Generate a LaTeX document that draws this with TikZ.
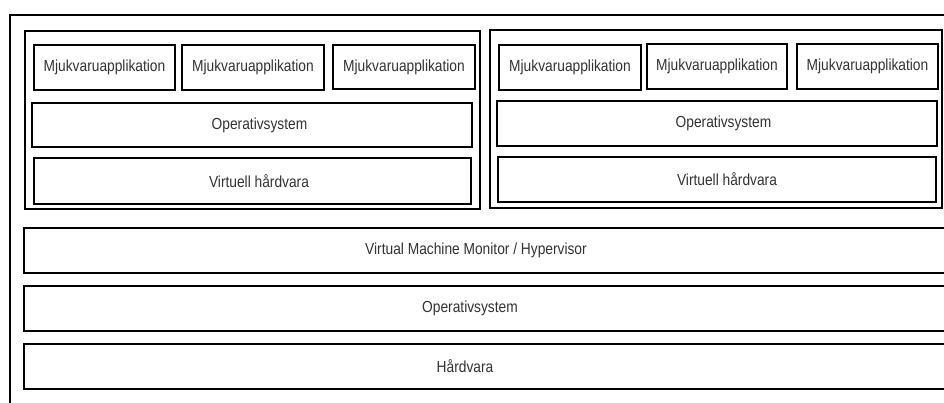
\documentclass[tikz,border=0pt]{standalone}
\usepackage{fontspec}
\setmainfont[FakeStretch=0.86]{Liberation Sans}
\begin{document}
\begin{tikzpicture}[x=1pt,y=-1pt,
  box/.style={draw=black,line width=1.7pt,rectangle,inner sep=0pt,outer sep=0pt,
    font=\fontsize{16}{19}\selectfont,text=black!80},
]
\useasboundingbox (0,0) rectangle (944,403);
\fill[white] (0,0) rectangle (944,403);
\clip (0,0) rectangle (944,403);
% outer frame
\draw[line width=1.7pt] (10,15) rectangle (990,450);
% virtual machine containers
\node[box,minimum width=455pt,minimum height=178pt] (vm1) at (252.5,120) {};
\node[box,minimum width=452pt,minimum height=178pt] (vm2) at (716,119) {};
% VM1
\node[box,minimum width=141pt,minimum height=45pt] (a11) at (104.5,67.5) {Mjukvaruapplikation};
\node[box,minimum width=142pt,minimum height=45pt] (a12) at (253,67.5) {Mjukvaruapplikation};
\node[box,minimum width=142pt,minimum height=44pt] (a13) at (404,67) {Mjukvaruapplikation};
\node[box,minimum width=440pt,minimum height=44pt] (os1) at (252,125) {\hspace*{15pt}Operativsystem};
\node[box,minimum width=437pt,minimum height=46pt] (vh1) at (252.5,181) {\hspace*{13pt}Virtuell hårdvara};
% VM2
\node[box,minimum width=142pt,minimum height=45pt] (a21) at (570,67.5) {Mjukvaruapplikation};
\node[box,minimum width=140pt,minimum height=45pt] (a22) at (717,66.5) {Mjukvaruapplikation};
\node[box,minimum width=141pt,minimum height=45pt] (a23) at (867.5,66.5) {Mjukvaruapplikation};
\node[box,minimum width=440pt,minimum height=45pt] (os2) at (717,123.5) {\hspace*{13pt}Operativsystem};
\node[box,minimum width=438pt,minimum height=45pt] (vh2) at (717,179.5) {\hspace*{20pt}Virtuell hårdvara};
% host layers
\node[box,minimum width=936pt,minimum height=45pt] (vmm) at (492,250.5) {Virtual Machine Monitor / Hypervisor\hspace*{32pt}};
\node[box,minimum width=936pt,minimum height=45pt] (hos) at (492,308.5) {Operativsystem\hspace*{44pt}};
\node[box,minimum width=936pt,minimum height=45pt] (hw) at (492,366.5) {Hårdvara\hspace*{54pt}};
\end{tikzpicture}
\end{document}
